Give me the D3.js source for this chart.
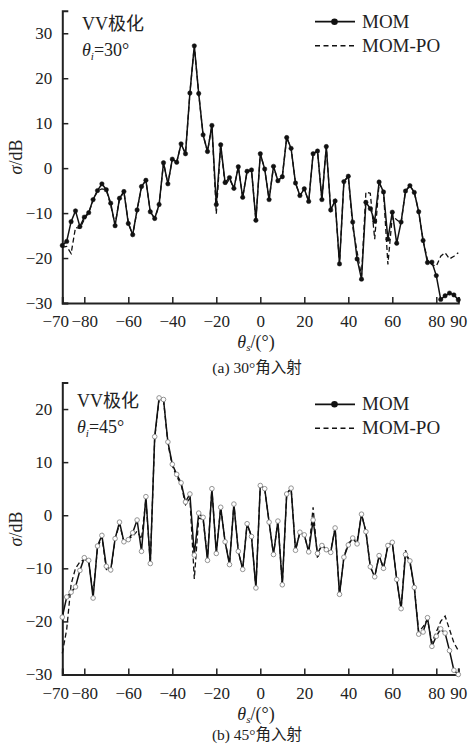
<!DOCTYPE html>
<html>
<head>
<meta charset="utf-8">
<script src="https://cdn.jsdelivr.net/npm/d3@7"></script>
<style>
body { margin: 0; background: #fff; }
svg text { font-family: "Liberation Serif", "Times New Roman", Tinos, "DejaVu Serif", "Noto Sans CJK SC", serif; fill: #222; }
</style>
</head>
<body>
<svg width="472" height="744"></svg>
<script>
// scattering angle, 2 degree steps
const angles = [-90,-88,-86,-84,-82,-80,-78,-76,-74,-72,-70,-68,-66,-64,-62,-60,-58,-56,-54,-52,
  -50,-48,-46,-44,-42,-40,-38,-36,-34,-32,-30,-28,-26,-24,-22,-20,-18,-16,-14,-12,-10,-8,-6,-4,-2,
  0,2,4,6,8,10,12,14,16,18,20,22,24,26,28,30,32,34,36,38,40,42,44,46,48,50,
  52,54,56,58,60,62,64,66,68,70,72,74,76,78,80,82,84,86,88,90]

// (a) 30 deg incidence
const mom30 = [-17.2,-16.3,-11.9,-9.5,-13.0,-10.9,-9.9,-7.0,-5.0,-3.5,-4.8,-7.8,-12.8,-6.7,-5.2,-12.3,-14.8,-9.3,-4.1,-2.7,
  -9.7,-11.2,-8.1,1.2,-3.5,2.0,1.3,5.4,3.2,16.7,27.2,16.6,7.4,3.7,9.5,-8.1,5.2,-3.2,-2.1,-4.5,0.3,-6.5,-0.7,-0.4,-11.6,
  3.2,-0.2,-7.0,0.4,-2.8,-1.9,6.8,4.4,-3.3,-6.1,-4.6,-7.4,3.2,3.8,-7.0,4.8,-9.3,-7.3,-21.3,-3.0,-1.8,-12.0,-20.2,-24.7,-7.6,-9.0,
  -11.8,-3.1,-5.3,-15.8,-9.8,-16.7,-12.0,-5.1,-3.9,-5.4,-9.7,-16.1,-21.0,-20.9,-23.9,-29.2,-28.4,-27.8,-28.2,-29.3]
const po30 = [-17.6,-17.4,-19.0,-13.2,-13.4,-11.4,-9.9,-7.2,-5.0,-4.6,-4.8,-8.3,-12.5,-6.9,-5.2,-12.0,-15.0,-9.3,-4.3,-2.7,
  -9.7,-11.2,-8.3,1.2,-3.5,2.0,1.3,5.4,3.2,16.7,27.2,16.6,7.4,3.7,9.5,-10.2,5.2,-3.9,-2.4,-4.5,0.3,-6.5,-0.7,-0.4,-11.6,
  3.2,-0.2,-7.0,0.4,-2.8,-1.9,6.8,4.4,-3.3,-6.1,-4.6,-7.4,3.2,3.8,-7.0,4.8,-9.3,-7.3,-21.3,-3.0,-1.8,-13.0,-18.6,-24.0,-5.3,-5.6,
  -15.8,-3.3,-5.3,-21.4,-10.6,-11.5,-12.2,-5.1,-3.9,-5.4,-9.7,-16.1,-20.4,-21.5,-21.8,-19.6,-18.8,-20.2,-19.6,-18.8]

// (b) 45 deg incidence
const mom45 = [-19.2,-15.4,-14.5,-13.5,-10.4,-8.0,-8.5,-15.6,-5.8,-3.8,-9.6,-10.3,-4.4,-1.3,-5.0,-4.6,-3.3,-0.9,-6.8,3.5,
  -9.1,14.8,22.1,21.8,13.8,9.6,7.7,6.1,2.5,4.0,-7.5,0.4,-0.4,-8.5,5.0,-7.2,1.5,-5.0,-9.3,2.1,-6.8,-10.2,-1.6,-4.0,-13.7,
  5.6,5.0,-1.3,-7.4,-1.1,-13.1,4.0,5.1,-6.6,-3.2,-3.7,-6.9,-0.9,-7.2,-5.7,-6.5,-7.0,-2.4,-14.9,-7.9,-5.6,-4.3,-5.4,0.2,-3.1,-9.7,
  -11.6,-7.6,-10.0,-5.7,-5.1,-12.1,-17.6,-7.4,-8.6,-13.6,-22.4,-22.0,-19.3,-24.7,-22.8,-21.4,-22.2,-25.5,-29.2,-30.0]
const po45 = [-26.0,-21.5,-13.0,-10.0,-8.8,-8.3,-8.8,-14.8,-6.2,-4.0,-10.2,-10.6,-4.6,-1.6,-5.0,-4.4,-4.0,-3.0,-4.5,3.0,
  -9.1,14.5,21.8,21.8,13.5,9.3,7.3,5.8,2.0,3.2,-12.0,-0.5,-0.8,-8.0,5.0,-7.0,1.5,-5.0,-9.0,2.1,-6.8,-10.2,-1.6,-4.0,-13.7,
  5.6,5.0,-1.3,-7.4,-1.1,-13.1,4.0,5.1,-6.6,-3.2,-3.7,-6.9,1.5,-8.2,-5.2,-6.8,-6.8,-2.4,-14.9,-7.9,-5.3,-4.3,-5.0,0.2,-3.1,-9.7,
  -11.6,-7.6,-10.0,-5.7,-5.1,-12.1,-17.6,-6.6,-9.0,-13.6,-22.0,-21.0,-19.6,-24.0,-22.0,-20.0,-19.0,-21.5,-24.0,-25.5]

const xTicks = [-90,-80,-60,-40,-20,0,20,40,60,80,90]
const xTickLabels = ['−70','−80','−60','−40','−20','0','20','40','60','80','90']
const yTicks30 = [-30,-20,-10,0,10,20,30]
const yTicks45 = [-30,-20,-10,0,10,20]

const FONT = '"Liberation Serif", "Times New Roman", Tinos, "DejaVu Serif", "Noto Sans CJK SC", serif'
const svg = d3.select('svg').attr('font-family', FONT)
const x = d3.scaleLinear().domain([-90, 90]).range([62.3, 458.3])
const fmt = d => d < 0 ? '−' + Math.abs(d) : String(d)

const render = (p) => {
    const y = d3.scaleLinear().domain(p.yDomain).range(p.yRange)
    const g = svg.append('g')

    const line = d3.line().x(d => x(d.a)).y(d => y(d.v))
    const momData = angles.map((a, i) => ({ a: a, v: p.mom[i] }))
    const poData = angles.map((a, i) => ({ a: a, v: p.po[i] }))

    // axes
    const xa = g.append('g')
        .attr('transform', `translate(0,${p.yRange[0]})`)
        .call(d3.axisBottom(x).tickValues(xTicks).tickFormat((d, i) => xTickLabels[i])
            .tickSizeInner(-6).tickSizeOuter(-6).tickPadding(12))
    xa.selectAll('text').filter((d, i) => i === 0).attr('dx', -7)

    const ya = g.append('g')
        .attr('transform', `translate(${x(-90)},0)`)
        .call(d3.axisLeft(y).tickValues(p.yTicks).tickFormat(fmt)
            .tickSizeInner(-6).tickSizeOuter(-6).tickPadding(10))

    ;[xa, ya].forEach(a => {
        a.attr('font-size', 17).attr('font-family', FONT)
        a.select('.domain').attr('stroke', '#222').attr('stroke-width', 2)
        a.selectAll('.tick line').attr('stroke', '#222').attr('stroke-width', 1.5)
        a.selectAll('text').attr('fill', '#222')
    })

    // series
    g.append('path').datum(poData)
        .attr('d', line).attr('fill', 'none')
        .attr('stroke', '#111').attr('stroke-width', 1.3).attr('stroke-dasharray', '5,3')
    g.append('path').datum(momData)
        .attr('d', line).attr('fill', 'none')
        .attr('stroke', '#111').attr('stroke-width', 1.5)
    g.selectAll('.pt').data(momData).enter().append('circle')
        .attr('class', 'pt')
        .attr('cx', d => x(d.a)).attr('cy', d => y(d.v))
        .attr('r', p.filled ? 2.2 : 2.3)
        .attr('fill', p.filled ? '#111' : '#fff')
        .attr('stroke', p.filled ? '#111' : '#888')
        .attr('stroke-width', p.filled ? 0.5 : 0.9)

    // legend
    const lg = g.append('g').attr('transform', `translate(315,${p.legendY})`)
    lg.append('line').attr('x1', 0).attr('x2', 40).attr('y1', 0).attr('y2', 0)
        .attr('stroke', '#111').attr('stroke-width', 1.8)
    lg.append('circle').attr('cx', 19.5).attr('cy', 0).attr('r', 3.3).attr('fill', '#111')
    lg.append('text').attr('x', 47).attr('y', 6).attr('font-size', 19).text('MOM')
    lg.append('line').attr('x1', 0).attr('x2', 40).attr('y1', 24).attr('y2', 24)
        .attr('stroke', '#111').attr('stroke-width', 1.5).attr('stroke-dasharray', '5,3.5')
    lg.append('text').attr('x', 47).attr('y', 30).attr('font-size', 19).text('MOM-PO')

    // annotation
    g.append('text').attr('x', p.noteX).attr('y', p.noteY).attr('font-size', 18).text('VV极化')
    const t = g.append('text').attr('x', p.noteX).attr('y', p.noteY + 26).attr('font-size', 18)
    t.append('tspan').attr('font-style', 'italic').text('θ')
    t.append('tspan').attr('font-style', 'italic').attr('font-size', 11).attr('dy', 4).text('i')
    t.append('tspan').attr('dy', -4).text('=' + p.inc + '°')

    // axis titles
    const xt = g.append('text').attr('x', 256).attr('y', p.yRange[0] + 45)
        .attr('text-anchor', 'middle').attr('font-size', 18)
    xt.append('tspan').attr('font-style', 'italic').text('θ')
    xt.append('tspan').attr('font-style', 'italic').attr('font-size', 11).attr('dy', 3).text('s')
    xt.append('tspan').attr('dy', -3).text('/(°)')

    const yt = g.append('text')
        .attr('transform', `translate(22,${p.titleY}) rotate(-90)`)
        .attr('text-anchor', 'middle').attr('font-size', 18)
    yt.append('tspan').attr('font-style', 'italic').text('σ')
    yt.append('tspan').text('/dB')

    g.append('text').attr('x', 257).attr('y', p.yRange[0] + p.capDy)
        .attr('text-anchor', 'middle').attr('font-size', 15.5).text(p.caption)
}

render({ mom: mom30, po: po30, yDomain: [-30, 35], yRange: [303, 10.8], yTicks: yTicks30, capDy: 70,
    filled: true, legendY: 21.7, noteX: 82, noteY: 30, inc: 30, titleY: 157, caption: '(a) 30°角入射' })
render({ mom: mom45, po: po45, yDomain: [-30, 25], yRange: [674.5, 382.5], yTicks: yTicks45, capDy: 65.5,
    filled: false, legendY: 404.3, noteX: 77, noteY: 406.5, inc: 45, titleY: 529, caption: '(b) 45°角入射' })
</script>
</body>
</html>
